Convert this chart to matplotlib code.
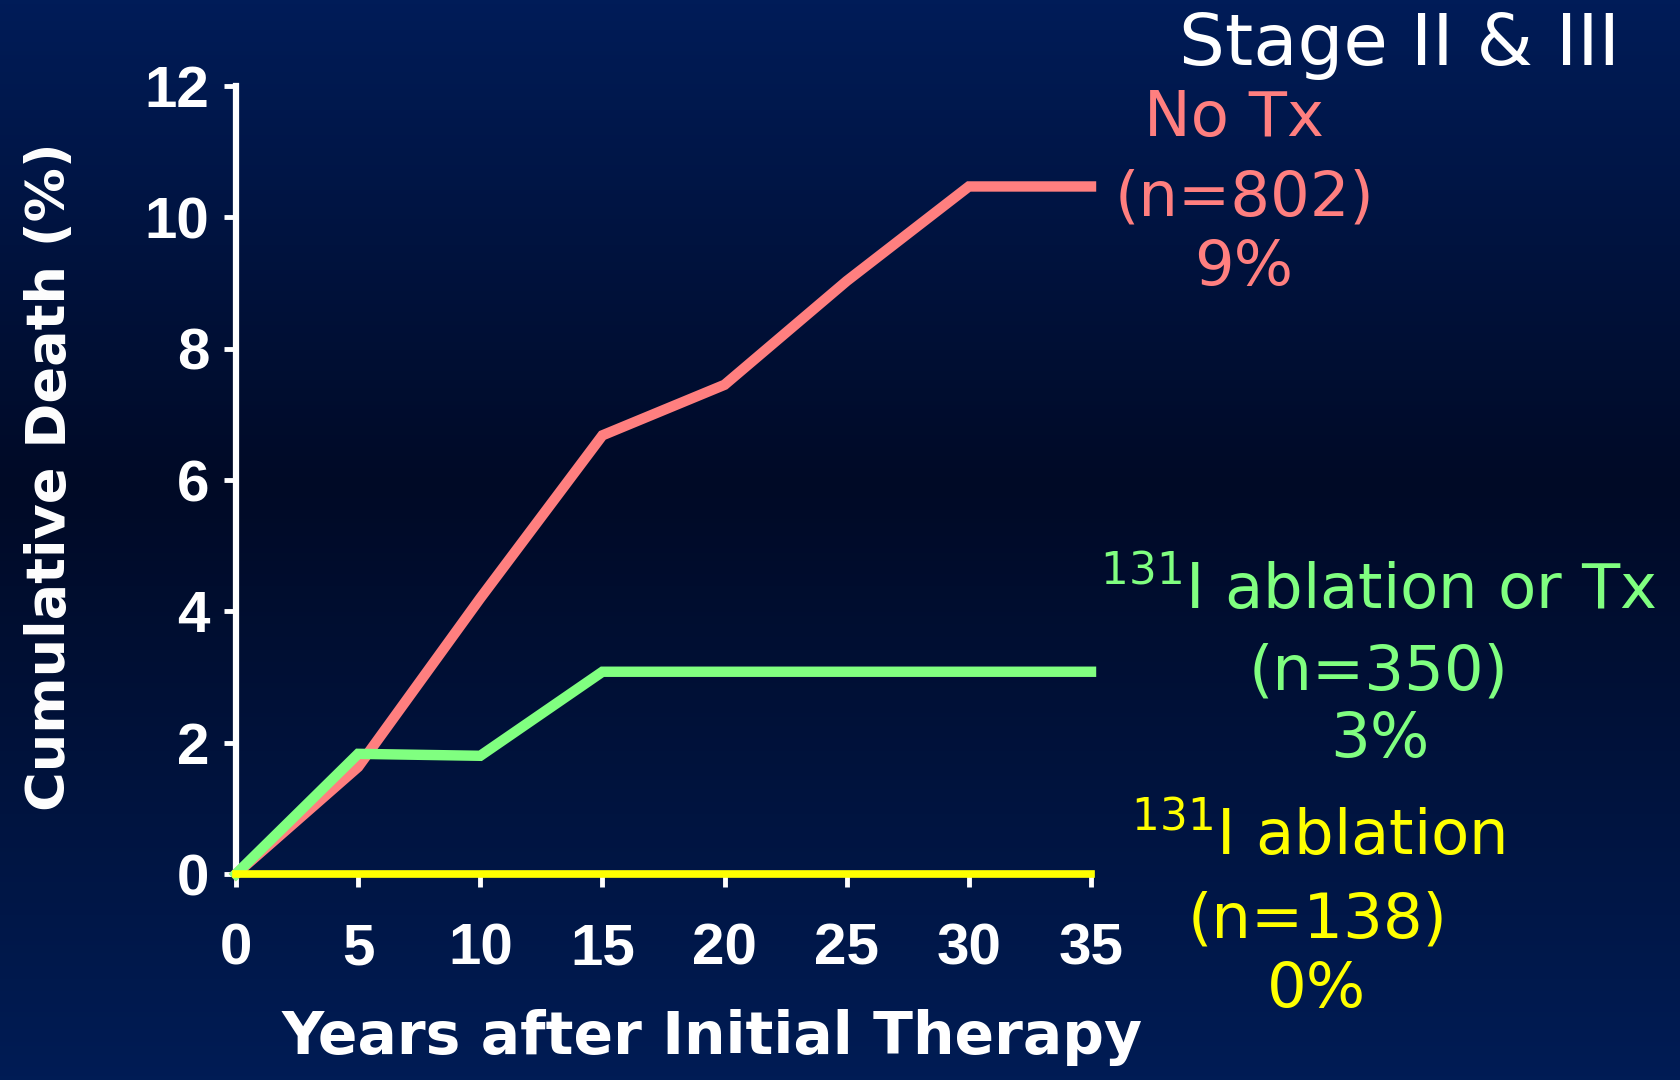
"""Cumulative death after initial therapy, stage II & III (slide-style chart)."""

import matplotlib.pyplot as plt
import numpy as np
from matplotlib.colors import LinearSegmentedColormap

plt.rcParams["mathtext.fontset"] = "custom"
plt.rcParams["mathtext.rm"] = "DejaVu Sans"

# data
years = [0, 5, 10, 15, 20, 25, 30, 35]
no_tx = [0.0, 1.63, 4.2, 6.68, 7.45, 9.03, 10.47, 10.47]
abl_or_tx = [0.0, 1.83, 1.8, 3.08, 3.08, 3.08, 3.08, 3.08]
abl_only = [0.0, 0.0, 0.0, 0.0, 0.0, 0.0, 0.0, 0.0]

x_ticks = [0, 5, 10, 15, 20, 25, 30, 35]
y_ticks = [0, 2, 4, 6, 8, 10, 12]

RED = "#ff7f7f"
GREEN = "#80ff80"
YELLOW = "#ffff00"

# series labels: (lines, colour, centre x px, centre y px of each line)
labels = [
    (["No Tx", "(n=802)", "9%"], RED, [1234, 1245, 1244], [119, 199, 268]),
    ([r"$^{131}$I ablation or Tx", "(n=350)", "3%"], GREEN,
     [1378, 1379, 1380], [590, 672, 740]),
    ([r"$^{131}$I ablation", "(n=138)", "0%"], YELLOW,
     [1318, 1318, 1317], [836, 921, 990]),
]

W, H = 1681, 1080
fig = plt.figure(figsize=(W / 100, H / 100), dpi=100)

# navy gradient backdrop
bg = fig.add_axes([0, 0, 1, 1], zorder=-10)
cmap = LinearSegmentedColormap.from_list(
    "slide", [(0.0, "#001c58"), (0.45, "#000a26"), (1.0, "#001c55")]
)
bg.imshow(np.linspace(0, 1, 256)[:, None], aspect="auto", cmap=cmap,
          extent=[0, 1, 0, 1])
bg.set_axis_off()

ax = fig.add_axes([236 / W, 1 - 874 / H, (1091 - 236) / W, (874 - 86) / H])
ax.patch.set_alpha(0)

ax.plot(years, no_tx, color=RED, lw=7.5, solid_joinstyle="miter", clip_on=False, zorder=3)
ax.plot(years, abl_or_tx, color=GREEN, lw=7.5, solid_joinstyle="miter", clip_on=False, zorder=4)
ax.plot(years, abl_only, color=YELLOW, lw=5.5, clip_on=False, zorder=5)

ax.set_xlim(0, 35)
ax.set_ylim(0, 12)
ax.set_xticks(x_ticks)
ax.set_yticks(y_ticks)

for s in ["top", "right"]:
    ax.spines[s].set_visible(False)
for s in ["left", "bottom"]:
    ax.spines[s].set_color("white")
    ax.spines[s].set_linewidth(4.5)

tick_font = {"family": ["Liberation Sans Narrow", "Liberation Sans"],
             "weight": "bold", "size": 42}
ax.tick_params(axis="both", colors="white", length=9, width=3.5, direction="out")
ax.tick_params(axis="y", pad=10)
ax.tick_params(axis="x", pad=26)
for lab in ax.get_xticklabels() + ax.get_yticklabels():
    lab.set_fontproperties(tick_font)
    lab.set_color("white")

ax.set_xlabel("Years after Initial Therapy", color="white", fontsize=42,
              fontweight="bold", family="DejaVu Sans")
ax.xaxis.set_label_coords((712 - 236) / (1091 - 236), -(1038 - 874) / (874 - 86))
ax.set_ylabel("Cumulative Death (%)", color="white", fontsize=39,
              fontweight="bold", family="DejaVu Sans")
ax.yaxis.set_label_coords(-(236 - 50) / (1091 - 236), (874 - 477) / (874 - 86))
ax.xaxis.label.set_va("center")
ax.yaxis.label.set_va("center")

fig.text(1400 / W, 1 - 45 / H, "Stage II & III", color="white", fontsize=52,
         ha="center", va="center", family="DejaVu Sans")

for lines, col, xs, ys in labels:
    for txt, xp, yp in zip(lines, xs, ys):
        fig.text(xp / W, 1 - yp / H, txt, color=col, fontsize=45,
                 ha="center", va="center", family="DejaVu Sans")

fig.savefig("out.png", dpi=100, facecolor="#000a26")
